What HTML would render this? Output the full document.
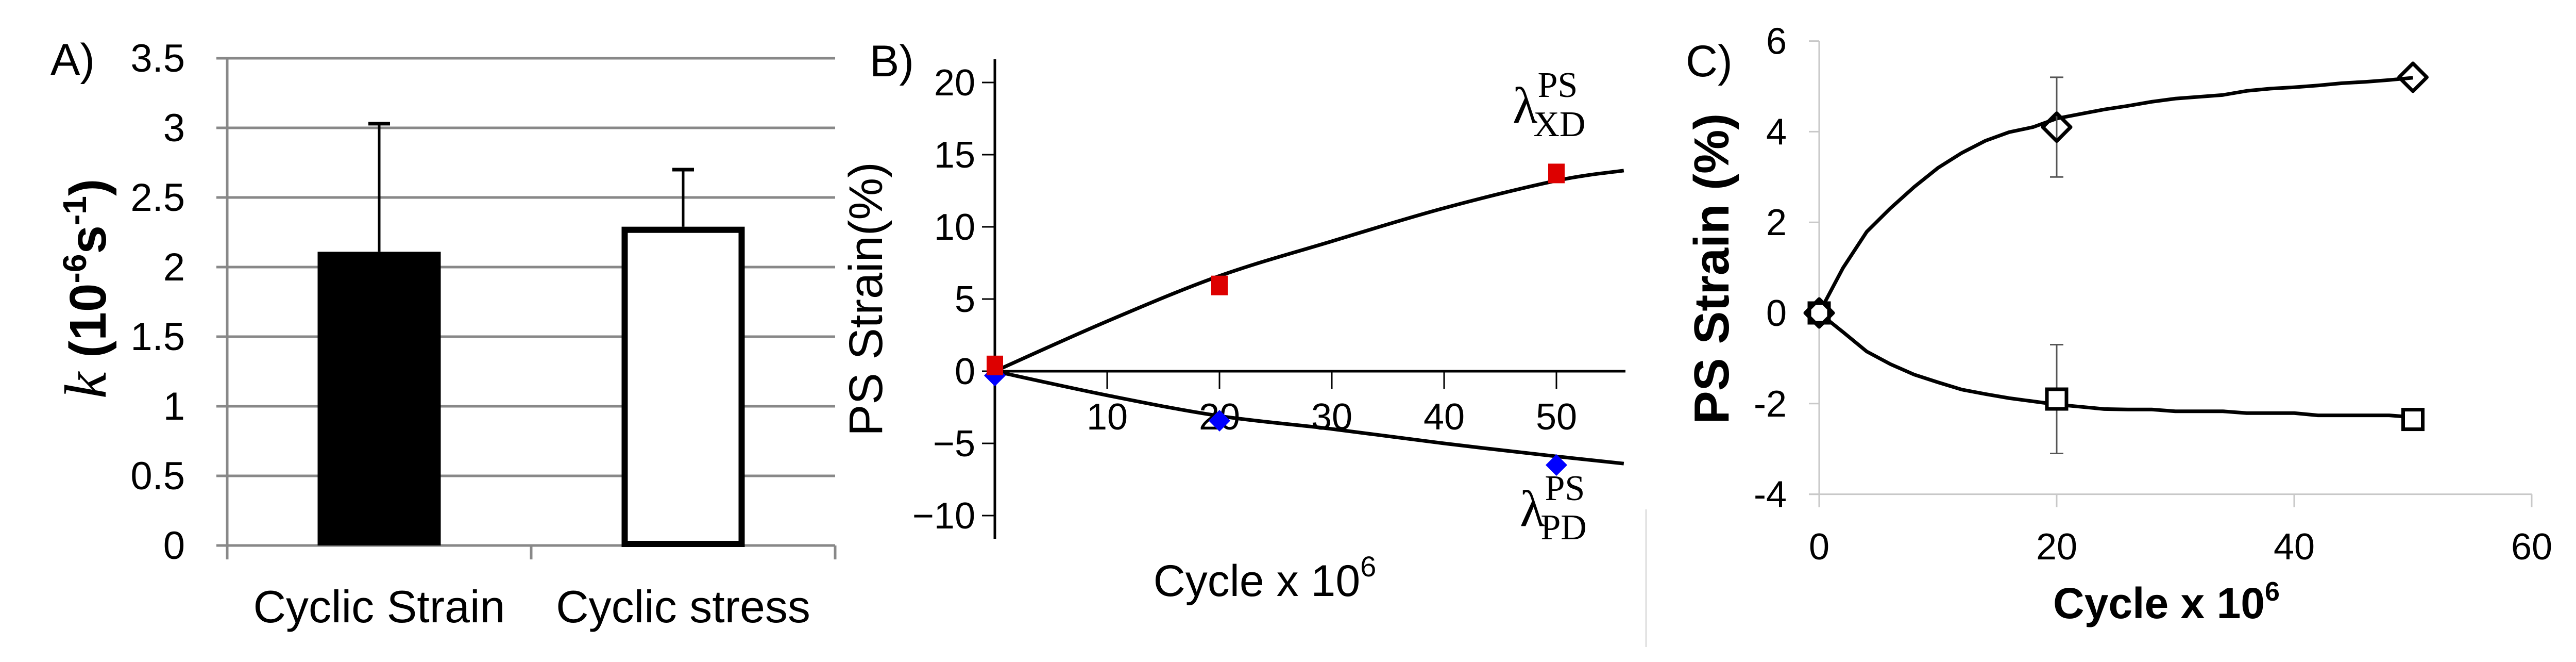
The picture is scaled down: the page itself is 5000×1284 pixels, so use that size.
<!DOCTYPE html>
<html><head><meta charset="utf-8"><style>
html,body{margin:0;padding:0;background:#fff;}
svg{display:block;}
text{font-family:"Liberation Sans Narrow","Liberation Sans",sans-serif;fill:#000;}
</style></head><body>
<svg id="fig" xmlns="http://www.w3.org/2000/svg" width="5000" height="1284" viewBox="0 0 5000 1284">
<g id="pa"></g>
<g id="pb"></g>
<g id="pc"></g>
</svg>
<script>
// ---- Panel A data ----
const aCategories = ["Cyclic Strain","Cyclic stress"];
const aValues = [2.11, 2.29];
const aErrTop = [3.03, 2.70];
const aTicks = [0,0.5,1,1.5,2,2.5,3,3.5];
const aTickLabels = ["0","0.5","1","1.5","2","2.5","3","3.5"];
// ---- Panel B data ----
const bRedX = [0,20,50];
const bRedY = [0.4,5.94,13.7];
const bBlueX = [0,20,50];
const bBlueY = [-0.3,-3.43,-6.5];
const bUpX = [0,10,20,30,40,50,56];
const bUpY = [0,3.46,6.6,9.0,11.3,13.2,13.9];
const bLoX = [0,10,20,30,40,50,56];
const bLoY = [0,-1.67,-3.1,-4.0,-5.0,-5.9,-6.4];
const bYTicks = [20,15,10,5,0,-5,-10];
const bYTickLabels = ["20","15","10","5","0","\u22125","\u221210"];
const bXTicks = [10,20,30,40,50];
const bXTickLabels = ["10","20","30","40","50"];
// ---- Panel C data ----
const cCurveX = [0,2,4,6,8,10,12,14,16,18,20,22,24,26,28,30,32,34,36,38,40,42,44,46,48,50];
const cUpY = [0,0.99,1.79,2.31,2.78,3.20,3.53,3.80,3.99,4.10,4.29,4.39,4.49,4.57,4.66,4.73,4.77,4.81,4.90,4.95,4.98,5.02,5.07,5.10,5.14,5.19];
const cLoY = [0,-0.42,-0.85,-1.13,-1.36,-1.53,-1.69,-1.79,-1.88,-1.95,-2.02,-2.07,-2.12,-2.13,-2.13,-2.17,-2.17,-2.17,-2.21,-2.21,-2.21,-2.26,-2.26,-2.26,-2.26,-2.30];
const cDiaX = [0,20,50];
const cDiaY = [0,4.1,5.2];
const cDiaErr = [0,1.1,0];
const cSqX = [0,20,50];
const cSqY = [0,-1.9,-2.35];
const cSqErr = [0,1.2,0];
const cYTicks = [6,4,2,0,-2,-4];
const cYTickLabels = ["6","4","2","0","-2","-4"];
const cXTicks = [0,20,40,60];
const cXTickLabels = ["0","20","40","60"];

const NS="http://www.w3.org/2000/svg";
function mk(parent, tag, attrs, txt){
  const e=document.createElementNS(NS,tag);
  for(const k in attrs) e.setAttribute(k,attrs[k]);
  if(txt!==undefined) e.textContent=txt;
  parent.appendChild(e); return e;
}
function linePath(xs,ys,fx,fy){
  let d='M'+fx(xs[0])+','+fy(ys[0]);
  for(let i=1;i<xs.length;i++) d+=' L'+fx(xs[i])+','+fy(ys[i]);
  return d;
}
function smoothPath(xs,ys,fx,fy){
  const P=xs.map((x,i)=>[fx(x),fy(ys[i])]);
  let d='M'+P[0][0]+','+P[0][1];
  for(let i=0;i<P.length-1;i++){
    const p0=P[Math.max(0,i-1)],p1=P[i],p2=P[i+1],p3=P[Math.min(P.length-1,i+2)];
    const c1=[p1[0]+(p2[0]-p0[0])/6,p1[1]+(p2[1]-p0[1])/6];
    const c2=[p2[0]-(p3[0]-p1[0])/6,p2[1]-(p3[1]-p1[1])/6];
    d+=` C${c1[0]},${c1[1]} ${c2[0]},${c2[1]} ${p2[0]},${p2[1]}`;
  }
  return d;
}

// ===== Panel A =====
const pa=document.getElementById('pa');
const ay=v=>1058-v*270;
const axc=i=>441+ (i+0.5)*590;
aTicks.forEach((t,i)=>{
  const l=mk(pa,'line',{x1:420,x2:1621,y1:ay(t),y2:ay(t),stroke:'#888','stroke-width':5});
  
  
  const tx=mk(pa,'text',{x:359,y:ay(t)+26,'text-anchor':'end','font-size':76},aTickLabels[i]);
  
  
});
let e=mk(pa,'line',{x1:441,x2:441,y1:113,y2:1085,stroke:'#888','stroke-width':5});

[441,1031,1621].forEach(x=>{
  const t=mk(pa,'line',{x1:x,x2:x,y1:1058,y2:1085,stroke:'#888','stroke-width':5});
  
  
});
aCategories.forEach((c,i)=>{
  const cx=axc(i), w=239;
  const er=mk(pa,'line',{x1:cx,x2:cx,y1:ay(aErrTop[i]),y2:ay(aValues[i]),stroke:'#000','stroke-width':5});
  
  
  const cap=mk(pa,'line',{x1:cx-21,x2:cx+21,y1:ay(aErrTop[i]),y2:ay(aErrTop[i]),stroke:'#000','stroke-width':7});
  
  
  let b;
  if(i===0){ b=mk(pa,'rect',{x:cx-w/2,y:ay(aValues[i]),width:w,height:ay(0)-ay(aValues[i]),fill:'#000'}); }
  else { b=mk(pa,'rect',{x:cx-w/2+6,y:ay(aValues[i])+6,width:w-12,height:ay(0)-ay(aValues[i])-9,fill:'#fff',stroke:'#000','stroke-width':12}); }
  
  
  const lb=mk(pa,'text',{x:cx,y:1207,'text-anchor':'middle','font-size':88},c);
  
  
});
e=mk(pa,'text',{x:98,y:145,'font-size':86},'A)');

e=mk(pa,'text',{transform:'translate(205,560) rotate(-90)','text-anchor':'middle','font-size':100,'font-weight':'bold'});

e.innerHTML='<tspan style="font-family:\'Liberation Serif\',serif;font-style:italic;font-weight:normal" font-size="116">k</tspan><tspan style="font-family:\'Liberation Sans\',sans-serif"> (10</tspan><tspan style="font-family:\'Liberation Sans\',sans-serif" font-size="64" dy="-38">-6</tspan><tspan style="font-family:\'Liberation Sans\',sans-serif" dy="38">s</tspan><tspan style="font-family:\'Liberation Sans\',sans-serif" font-size="64" dy="-38">-1</tspan><tspan style="font-family:\'Liberation Sans\',sans-serif" dy="38">)</tspan>';

// ===== Panel B =====
const pb=document.getElementById('pb');
const bx=v=>1931+v*21.8;
const by=v=>720-v*28.0;
e=mk(pb,'line',{x1:1931,x2:1931,y1:115,y2:1045,stroke:'#000','stroke-width':5});

e=mk(pb,'line',{x1:1931,x2:3155,y1:by(0),y2:by(0),stroke:'#000','stroke-width':5});

bYTicks.forEach((t,i)=>{
  const l=mk(pb,'line',{x1:1906,x2:1931,y1:by(t),y2:by(t),stroke:'#000','stroke-width':3});
  
  
  const tx=mk(pb,'text',{x:1893,y:by(t)+25,'text-anchor':'end','font-size':72},bYTickLabels[i]);
  
  
});
bXTicks.forEach((t,i)=>{
  const l=mk(pb,'line',{x1:bx(t),x2:bx(t),y1:by(0),y2:by(0)+34,stroke:'#000','stroke-width':3});
  
  
  const tx=mk(pb,'text',{x:bx(t),y:833,'text-anchor':'middle','font-size':72},bXTickLabels[i]);
  
  
});
e=mk(pb,'path',{d:smoothPath(bUpX,bUpY,bx,by),fill:'none',stroke:'#000','stroke-width':7,'stroke-linejoin':'round'});

e=mk(pb,'path',{d:smoothPath(bLoX,bLoY,bx,by),fill:'none',stroke:'#000','stroke-width':7,'stroke-linejoin':'round'});

bBlueX.forEach((x,i)=>{
  const cx=bx(x),cy=by(bBlueY[i]),r=21;
  const p=mk(pb,'polygon',{points:`${cx},${cy-r} ${cx+r},${cy} ${cx},${cy+r} ${cx-r},${cy}`,fill:'#0000ff'});
  
  
});
bRedX.forEach((x,i)=>{
  const cx=bx(x),cy=by(bRedY[i]);
  const p=mk(pb,'rect',{x:cx-16,y:cy-19,width:32,height:38,fill:'#dd0000'});
  
  
});
e=mk(pb,'text',{x:1688,y:148,'font-size':86},'B)');

e=mk(pb,'text',{transform:'translate(1712,580) rotate(-90)','text-anchor':'middle','font-size':92,style:"font-family:'Liberation Sans',sans-serif"},'PS Strain(%)');

e=mk(pb,'text',{x:2455,y:1156,'text-anchor':'middle','font-size':86});

e.innerHTML='Cycle x 10<tspan font-size="56" dy="-38">6</tspan>';
e=mk(pb,'text',{x:2936,y:238,'font-size':100,style:"font-family:'Liberation Serif',serif"});

e.innerHTML='λ<tspan font-size="70" dy="-50">PS</tspan><tspan font-size="70" dx="-86" dy="76">XD</tspan>';
e=mk(pb,'text',{x:2950,y:1020,'font-size':100,style:"font-family:'Liberation Serif',serif"});

e.innerHTML='λ<tspan font-size="70" dy="-50">PS</tspan><tspan font-size="70" dx="-86" dy="76">PD</tspan>';
e=mk(pb,'line',{x1:3195,x2:3195,y1:988,y2:1255,stroke:'#dddddd','stroke-width':3});


// ===== Panel C =====
const pc=document.getElementById('pc');
const cx_=v=>3531+v*23.05;
const cy_=v=>607-v*87.9;
e=mk(pc,'line',{x1:3531,x2:3531,y1:cy_(6),y2:cy_(-4)+25,stroke:'#c8c8c8','stroke-width':3});

e=mk(pc,'line',{x1:3511,x2:cx_(60),y1:cy_(-4),y2:cy_(-4),stroke:'#c8c8c8','stroke-width':3});

cYTicks.forEach((t,i)=>{
  const l=mk(pc,'line',{x1:3511,x2:3531,y1:cy_(t),y2:cy_(t),stroke:'#c8c8c8','stroke-width':3});
  
  
  const tx=mk(pc,'text',{x:3468,y:cy_(t)+25,'text-anchor':'end','font-size':72},cYTickLabels[i]);
  
  
});
cXTicks.forEach((t,i)=>{
  const l=mk(pc,'line',{x1:cx_(t),x2:cx_(t),y1:cy_(-4),y2:cy_(-4)+25,stroke:'#c8c8c8','stroke-width':3});
  
  
  const tx=mk(pc,'text',{x:cx_(t),y:1085,'text-anchor':'middle','font-size':72},cXTickLabels[i]);
  
  
});
e=mk(pc,'path',{d:linePath(cCurveX,cUpY,cx_,cy_),fill:'none',stroke:'#000','stroke-width':7,'stroke-linejoin':'round'});

e=mk(pc,'path',{d:linePath(cCurveX,cLoY,cx_,cy_),fill:'none',stroke:'#000','stroke-width':7,'stroke-linejoin':'round'});

function errBar(x,y,err,name){
  if(err<=0) return;
  const X=cx_(x);
  const g=mk(pc,'g',{stroke:'#555','stroke-width':3});
  
  
  mk(g,'line',{x1:X,x2:X,y1:cy_(y+err),y2:cy_(y-err)});
  mk(g,'line',{x1:X-13,x2:X+13,y1:cy_(y+err),y2:cy_(y+err)});
  mk(g,'line',{x1:X-13,x2:X+13,y1:cy_(y-err),y2:cy_(y-err)});
}
cDiaX.forEach((x,i)=>errBar(x,cDiaY[i],cDiaErr[i],'c-upper-error-bar'));
cSqX.forEach((x,i)=>errBar(x,cSqY[i],cSqErr[i],'c-lower-error-bar'));
cSqX.forEach((x,i)=>{
  const X=cx_(x),Y=cy_(cSqY[i]);
  const p=mk(pc,'rect',{x:X-19,y:Y-19,width:38,height:38,fill:'#fff',stroke:'#000','stroke-width':7});
  
  
});
cDiaX.forEach((x,i)=>{
  const X=cx_(x),Y=cy_(cDiaY[i]),r=27;
  const p=mk(pc,'polygon',{points:`${X},${Y-r} ${X+r},${Y} ${X},${Y+r} ${X-r},${Y}`,fill:'none',stroke:'#000','stroke-width':7,'stroke-linejoin':'round'});
  
  
});
e=mk(pc,'text',{x:3272,y:148,'font-size':86},'C)');

e=mk(pc,'text',{transform:'translate(3355,521) rotate(-90)','text-anchor':'middle','font-size':96,'font-weight':'bold',style:"font-family:'Liberation Sans',sans-serif"},'PS Strain (%)');

e=mk(pc,'text',{x:4205,y:1199,'text-anchor':'middle','font-size':84,'font-weight':'bold'});

e.innerHTML='Cycle x 10<tspan font-size="52" dy="-34">6</tspan>';
</script>
</body></html>
